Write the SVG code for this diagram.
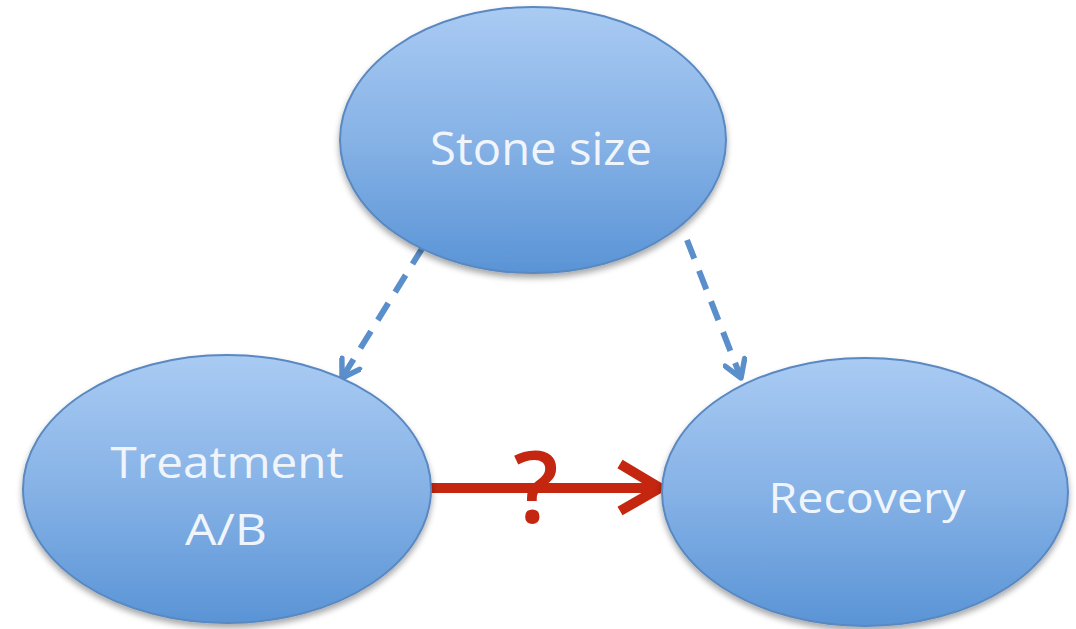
<svg xmlns="http://www.w3.org/2000/svg" width="1076" height="629" viewBox="0 0 1076 629">
  <defs>
    <linearGradient id="nodeFill" x1="0" y1="0" x2="0" y2="1">
      <stop offset="0" stop-color="#a9cbf3"/>
      <stop offset="0.5" stop-color="#86b2e6"/>
      <stop offset="1" stop-color="#5a94d6"/>
    </linearGradient>
    <filter id="shadow" x="-10%" y="-10%" width="120%" height="125%">
      <feGaussianBlur in="SourceAlpha" stdDeviation="3"/>
      <feOffset dy="4"/>
      <feComponentTransfer><feFuncA type="linear" slope="0.35"/></feComponentTransfer>
      <feMerge><feMergeNode/><feMergeNode in="SourceGraphic"/></feMerge>
    </filter>
    <marker id="openHead" viewBox="0 0 12 12" refX="10" refY="6" markerWidth="4.2" markerHeight="4.2" orient="auto" markerUnits="strokeWidth">
      <path d="M2,1 L10,6 L2,11" fill="none" stroke="#5b8fcb" stroke-width="2.6" stroke-linecap="round" stroke-linejoin="round"/>
    </marker>
    <style>
      .node ellipse { fill: url(#nodeFill); stroke: #5a88c0; stroke-width: 2; filter: url(#shadow); }
      .label { font-family: "Open Sans", "Noto Sans", sans-serif; fill: #f0f5fc; text-anchor: middle; }
      .dash { fill: none; stroke: #5b8fcb; stroke-width: 6; stroke-dasharray: 20 13; marker-end: url(#openHead); }
      .causal { fill: none; stroke: #c4260f; stroke-width: 10; }
    </style>
  </defs>

  <rect width="1076" height="629" fill="#ffffff"/>

  <!-- connectors -->
  <g id="connectors">
    <path class="dash" d="M423,247 L342,378"/>
    <path class="dash" d="M687,240 L741,378"/>
    <path class="causal" d="M430,488 L660,488"/>
    <path class="causal" d="M620,464 L660,488 L620,511" stroke-linejoin="miter"/>
    <text x="536" y="523" font-family="'Open Sans', 'Noto Sans', sans-serif" font-size="100" font-weight="600" fill="#c4260f" text-anchor="middle">?</text>
  </g>

  <!-- Stone size -->
  <g id="node-stone-size" class="node">
    <ellipse cx="533" cy="140" rx="193" ry="133"/>
    <text class="label" x="541" y="165" font-size="46" textLength="222" lengthAdjust="spacingAndGlyphs">Stone size</text>
  </g>

  <!-- Treatment A/B -->
  <g id="node-treatment" class="node">
    <ellipse cx="227" cy="489" rx="204" ry="134"/>
    <text class="label" x="227" y="478" font-size="44" textLength="233" lengthAdjust="spacingAndGlyphs">Treatment</text>
    <text class="label" x="226" y="545" font-size="44" textLength="82" lengthAdjust="spacingAndGlyphs">A/B</text>
  </g>

  <!-- Recovery -->
  <g id="node-recovery" class="node">
    <ellipse cx="865" cy="492" rx="203" ry="134"/>
    <text class="label" x="867" y="513" font-size="42" textLength="197" lengthAdjust="spacingAndGlyphs">Recovery</text>
  </g>
</svg>
